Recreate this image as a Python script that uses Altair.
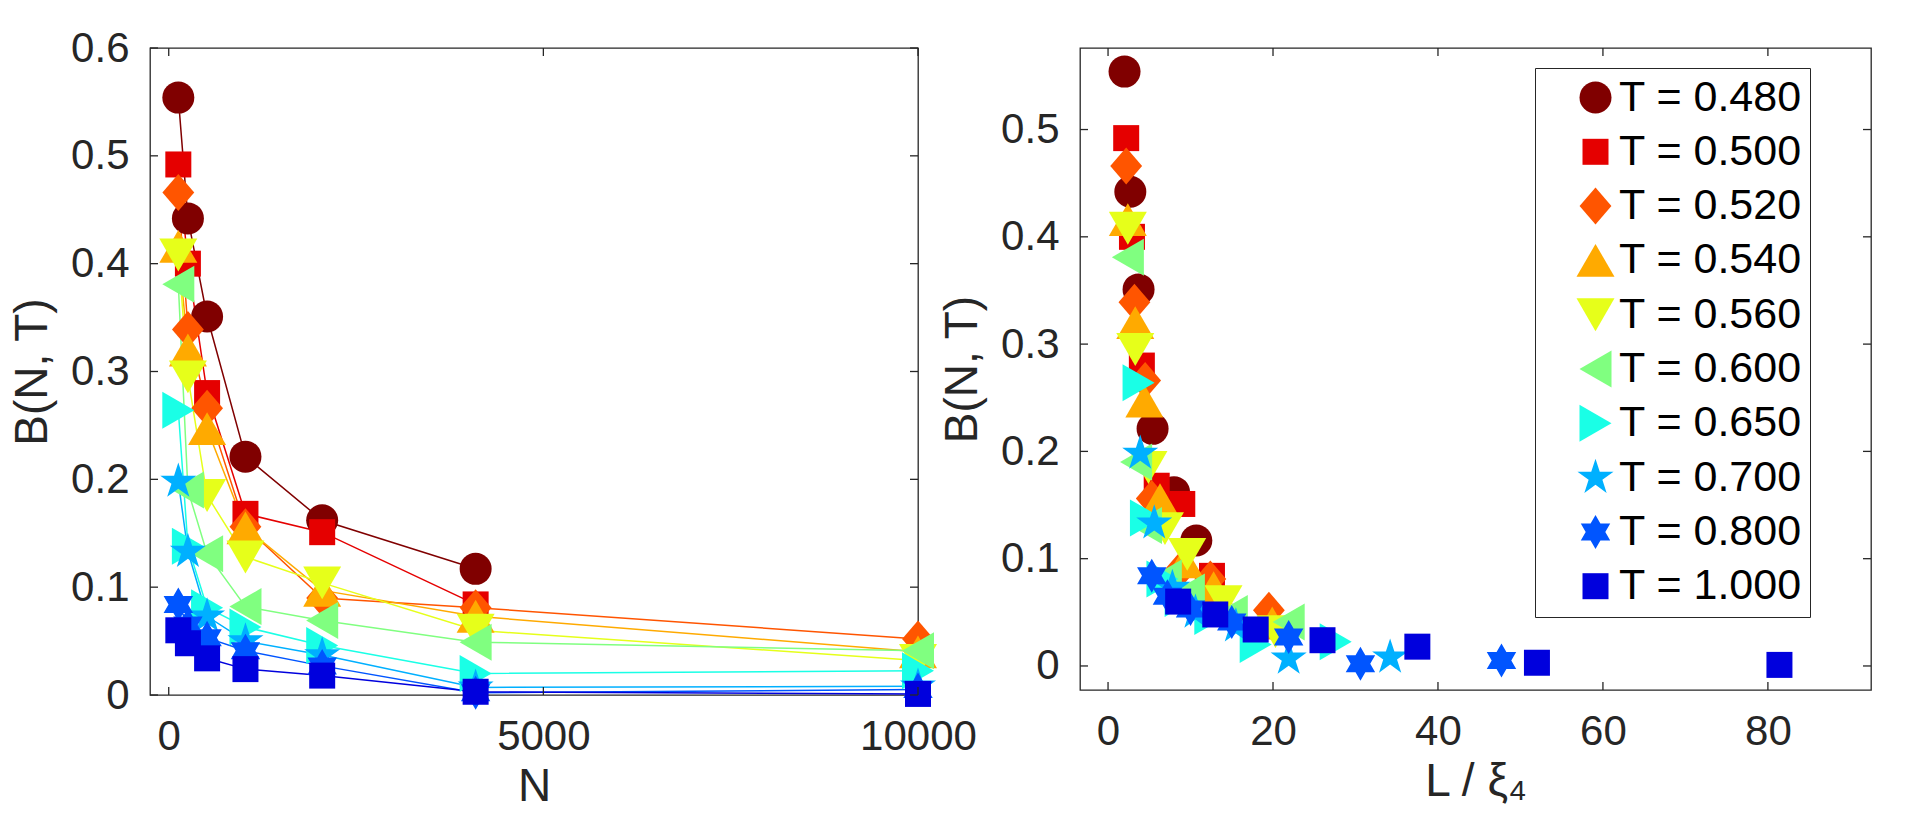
import math
import altair as alt
import pandas as pd

# ---------------- data ----------------
T_LABELS = ["T = 0.480", "T = 0.500", "T = 0.520", "T = 0.540", "T = 0.560",
            "T = 0.600", "T = 0.650", "T = 0.700", "T = 0.800", "T = 1.000"]
COLORS = ["#800000", "#E50000", "#FF5500", "#FFAA00", "#E6FF1A",
          "#80FF80", "#1AFFE6", "#00B0FF", "#0055FF", "#0000DD"]
N_VALUES = [128, 256, 512, 1024, 2048, 4096, 10000]

B_048 = [0.554, 0.442, 0.351, 0.221, 0.162, 0.117]
B_050 = [0.492, 0.400, 0.280, 0.168, 0.151, 0.084]
B_052 = [0.466, 0.339, 0.266, 0.156, 0.090, 0.081, 0.052]
B_054 = [0.416, 0.320, 0.247, 0.155, 0.097, 0.073, 0.040]
B_056 = [0.408, 0.295, 0.185, 0.128, 0.104, 0.060, 0.032]
B_060 = [0.381, 0.190, 0.131, 0.082, 0.069, 0.049, 0.041]
B_065 = [0.264, 0.138, 0.081, 0.063, 0.046, 0.020, 0.0225]
B_070 = [0.198, 0.133, 0.073, 0.050, 0.037, 0.007, 0.008]
B_080 = [0.084, 0.065, 0.053, 0.041, 0.027, 0.002, 0.005]
B_100 = [0.060, 0.048, 0.034, 0.024, 0.018, 0.003, 0.001]

X_048 = [2.0, 2.7, 3.7, 5.4, 8.0, 10.7]
X_050 = [2.2, 2.9, 4.1, 5.9, 9.0, 12.6]
X_052 = [2.2, 3.2, 4.5, 5.3, 8.8, 12.4, 19.5]
X_054 = [2.4, 3.3, 4.4, 6.3, 9.3, 12.8, 19.9]
X_056 = [2.4, 3.3, 4.9, 6.9, 9.6, 14.0, 20.3]
X_060 = [2.4, 3.4, 4.6, 7.0, 9.8, 15.0, 21.9]
X_065 = [3.7, 4.6, 6.6, 8.8, 12.4, 17.9, 27.6]
X_070 = [3.9, 5.6, 7.8, 10.6, 15.5, 21.9, 34.2]
X_080 = [5.3, 7.2, 10.0, 15.0, 21.9, 30.6, 47.7]
X_100 = [8.5, 13.0, 17.9, 26.0, 37.5, 52.0, 81.4]

B_SERIES = [B_048, B_050, B_052, B_054, B_056, B_060, B_065, B_070, B_080, B_100]
X_SERIES = [X_048, X_050, X_052, X_054, X_056, X_060, X_065, X_070, X_080, X_100]

LEFT_X_TICKS = [0, 5000, 10000]
LEFT_Y_TICKS = [0, 0.1, 0.2, 0.3, 0.4, 0.5, 0.6]
RIGHT_X_TICKS = [0, 20, 40, 60, 80]
RIGHT_Y_TICKS = [0, 0.1, 0.2, 0.3, 0.4, 0.5]

rows = []
for lab, bs, xs in zip(T_LABELS, B_SERIES, X_SERIES):
    for i, (b, xv) in enumerate(zip(bs, xs)):
        rows.append({"T": lab, "N": N_VALUES[i], "B": b, "LX": xv})
df = pd.DataFrame(rows)

# ---------------- styles ----------------
FONT = "Liberation Sans"
AX = "#262626"


def star_path(n, inner):
    pts = []
    for i in range(2 * n):
        r = 1.0 if i % 2 == 0 else inner
        a = math.radians(-90 + i * 180.0 / n)
        pts.append(f"{r * math.cos(a):.4f},{r * math.sin(a):.4f}")
    return "M" + "L".join(pts) + "Z"


DIAMOND = "M0,-1L0.86,0L0,1L-0.86,0Z"
PENTAGRAM = star_path(5, 0.382)
HEXAGRAM = star_path(6, 0.577)
SHAPES = ["circle", "square", DIAMOND, "triangle-up", "triangle-down",
          "triangle-left", "triangle-right", PENTAGRAM, HEXAGRAM, "square"]
SIZES = [1024, 676, 1369, 1444, 1444, 1369, 1369, 1436, 1156, 676]

TICK = 8
LW, LH = 768, 647
RW, RH = 791, 642


def axis(values, title, fmt, title_pad):
    return alt.Axis(values=values, title=title, format=fmt, domain=False,
                    ticks=False, tickSize=0, grid=False, labelFlush=False,
                    labelOverlap=False, labelFont=FONT, labelFontSize=42,
                    labelColor=AX, labelPadding=21, titleFont=FONT,
                    titleFontSize=46, titleColor=AX, titleFontWeight="normal",
                    titlePadding=title_pad)


def panel(xfield, xdom, ydom, xticks, yticks, xaxis, yaxis, w, h, lines, legend):
    xs = alt.Scale(domain=xdom, nice=False, zero=False)
    ys = alt.Scale(domain=ydom, nice=False, zero=False)
    X = lambda f: alt.X(f, type="quantitative", scale=xs, axis=xaxis)
    Y = lambda f: alt.Y(f, type="quantitative", scale=ys, axis=yaxis)
    cscale = alt.Scale(domain=T_LABELS, range=COLORS)
    sscale = alt.Scale(domain=T_LABELS, range=SHAPES)
    zscale = alt.Scale(type="ordinal", domain=T_LABELS, range=SIZES)

    layers = []
    if lines:
        layers.append(alt.Chart(df).mark_line(strokeWidth=1.5, clip=False).encode(
            x=X(xfield), y=Y("B"),
            color=alt.Color("T:N", scale=cscale, legend=None),
            detail="T:N", order="N:Q"))
    layers.append(alt.Chart(df).mark_point(filled=True, opacity=1, strokeWidth=0,
                                           clip=False).encode(
        x=X(xfield), y=Y("B"),
        color=alt.Color("T:N", scale=cscale, legend=legend),
        shape=alt.Shape("T:N", scale=sscale, legend=legend),
        size=alt.Size("T:N", scale=zscale, legend=legend)))

    tx = pd.DataFrame({"v": xticks})
    ty = pd.DataFrame({"v": yticks})
    rule = dict(color=AX, strokeWidth=1.3)
    layers.append(alt.Chart(tx).mark_rule(**rule).encode(
        x=X("v"), y=alt.value(h), y2=alt.value(h - TICK)))
    layers.append(alt.Chart(tx).mark_rule(**rule).encode(
        x=X("v"), y=alt.value(0), y2=alt.value(TICK)))
    layers.append(alt.Chart(ty).mark_rule(**rule).encode(
        y=Y("v"), x=alt.value(0), x2=alt.value(TICK)))
    layers.append(alt.Chart(ty).mark_rule(**rule).encode(
        y=Y("v"), x=alt.value(w), x2=alt.value(w - TICK)))
    return alt.layer(*layers).properties(width=w, height=h)


left = panel("N", [-250, 10000], [0, 0.6], LEFT_X_TICKS, LEFT_Y_TICKS,
             axis(LEFT_X_TICKS, "N", "d", 7),
             axis(LEFT_Y_TICKS, "B(N, T)", ".1~f", 14),
             LW, LH, True, None)

legend = alt.Legend(title=None, orient="none", legendX=455, legendY=20,
                    direction="vertical", labelFont=FONT, labelFontSize=43,
                    labelColor="#000000", strokeColor=AX, fillColor="white",
                    padding=8, rowPadding=10.3, symbolOffset=31, labelOffset=2,
                    symbolStrokeWidth=0, labelLimit=0,
                    labelExpr="datum.label + '     \u2009'")

right = panel("LX", [-3.4, 92.5], [-0.0224, 0.576], RIGHT_X_TICKS, RIGHT_Y_TICKS,
              axis(RIGHT_X_TICKS, "L / ξ₄", "d", 7),
              axis(RIGHT_Y_TICKS, "B(N, T)", ".1~f", 14),
              RW, RH, False, legend)

chart = alt.hconcat(left, right, spacing=162, bounds="flush").resolve_scale(
    color="independent", shape="independent", size="independent"
).resolve_legend(
    color="independent", shape="independent", size="independent"
).configure_view(stroke=AX, strokeWidth=1.3).properties(
    padding={"left": 8, "top": 26, "right": 5, "bottom": 5},
    background="white")

chart.save("out.html", embed_options={"renderer": "svg", "actions": False})
